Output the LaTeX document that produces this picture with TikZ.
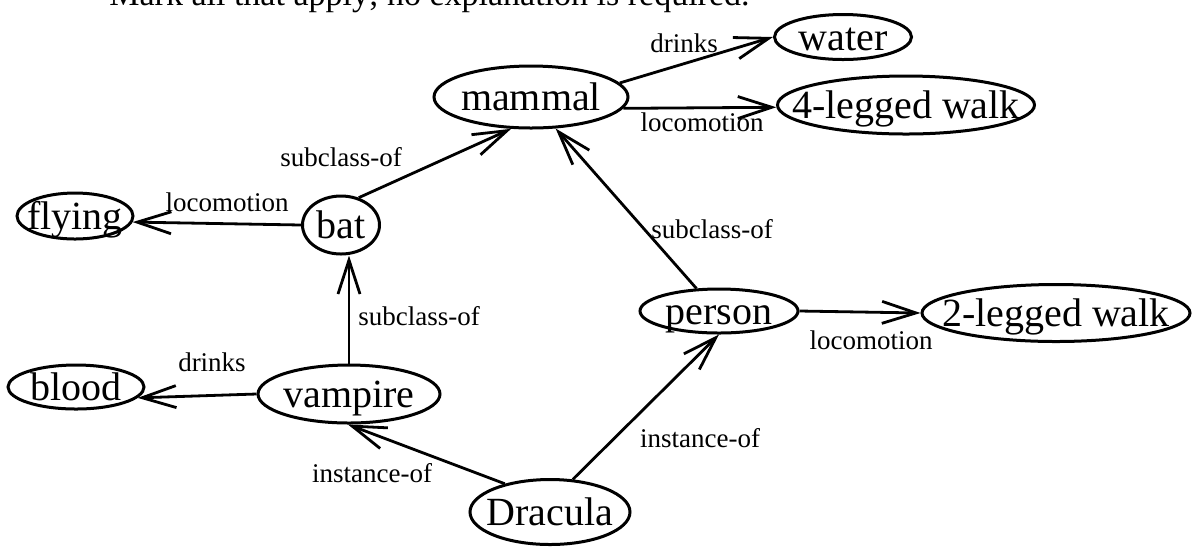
\documentclass[tikz,border=0pt]{standalone}
\usepackage{fontspec}
\setmainfont{Liberation Serif}
\usetikzlibrary{arrows.meta,shapes.geometric}
\newcommand{\conceptfont}{\fontsize{20pt}{24pt}\selectfont}
\newcommand{\relfont}{\fontsize{13.5pt}{16pt}\selectfont}
\newcommand{\bodyfont}{\fontsize{17pt}{20pt}\selectfont}
\newcommand{\cpt}[1]{\makebox[0pt]{#1}}
\tikzset{
  %% nodes
  concept/.style = {ellipse, draw=black, line width=1.5pt, inner sep=0pt,
                    font=\conceptfont, text height=14pt, text depth=1pt},
  rellbl/.style  = {font=\relfont, inner sep=1pt},
  %% arrows
  rel/.style     = {-{Straight Barb[length=17pt, width=11pt]}, draw=black,
                    line width=1.4pt},
}
\begin{document}
\begin{tikzpicture}[x=0.5pt, y=-0.5pt]
\useasboundingbox (0,0) rectangle (1193,548);

%% question line, cut off at the top
\node[font=\bodyfont, anchor=base west, inner sep=0pt] (question) at (109,5)
   {Mark all that apply; no explanation is required.};

%% concepts
\node[concept, minimum width=97pt,  minimum height=31pt]   (mammal)  at (531,97)  {\cpt{mammal}};
\node[concept, minimum width=68.5pt, minimum height=22.5pt] (water)   at (843,37)  {\cpt{water}};
\node[concept, minimum width=128.5pt, minimum height=29pt]  (legs4)   at (906,105) {\cpt{4-legged walk}};
\node[concept, minimum width=58pt,  minimum height=23pt]   (flying)  at (75,216)  {\cpt{flying}};
\node[concept, minimum width=38.5pt, minimum height=29pt]  (bat)     at (341,225) {\cpt{bat}};
\node[concept, minimum width=68pt,  minimum height=22pt]   (blood)   at (76,387)  {\cpt{blood}};
\node[concept, minimum width=91pt,  minimum height=29pt]   (vampire) at (349,394) {\cpt{vampire}};
\node[concept, minimum width=80pt,  minimum height=32.5pt] (dracula) at (550,512) {\cpt{Dracula}};
\node[concept, minimum width=79pt,  minimum height=22pt]   (person)  at (719,311) {\cpt{person}};
\node[concept, minimum width=134pt, minimum height=28.5pt] (legs2)   at (1056,313) {\cpt{2-legged walk}};

%% relations
\draw[rel] (mammal.9) -- (water.west);
\draw[rel] (mammal.-7) -- (legs4.181.5);
\draw[rel] (bat.west) -- (flying.-6);
\draw[rel] (bat.57) -- (mammal.-122);
\draw[rel] (vampire.north) -- (bat.south -| vampire.north);
\draw[rel] (vampire.west) -- (blood.-10);
\draw[rel] (dracula.148) -- (vampire.-92);
\draw[rel] (dracula.55) -- (person.-90);
\draw[rel] (person.135) -- (mammal.-52);
\draw[rel] (person.east) -- (legs2.west);

%% relation labels
\node[rellbl] (drinks-water)  at (684,43)  {drinks};
\node[rellbl] (loco-mammal)   at (702,122) {locomotion};
\node[rellbl] (sub-bat)       at (341,157) {subclass-of};
\node[rellbl] (loco-bat)      at (227,202) {locomotion};
\node[rellbl] (sub-vampire)   at (419,316) {subclass-of};
\node[rellbl] (drinks-blood)  at (212,362) {drinks};
\node[rellbl] (inst-vampire)  at (372,473) {instance-of};
\node[rellbl] (inst-person)   at (700,438) {instance-of};
\node[rellbl] (sub-person)    at (712,229) {subclass-of};
\node[rellbl] (loco-person)   at (871,340) {locomotion};

\end{tikzpicture}
\end{document}
